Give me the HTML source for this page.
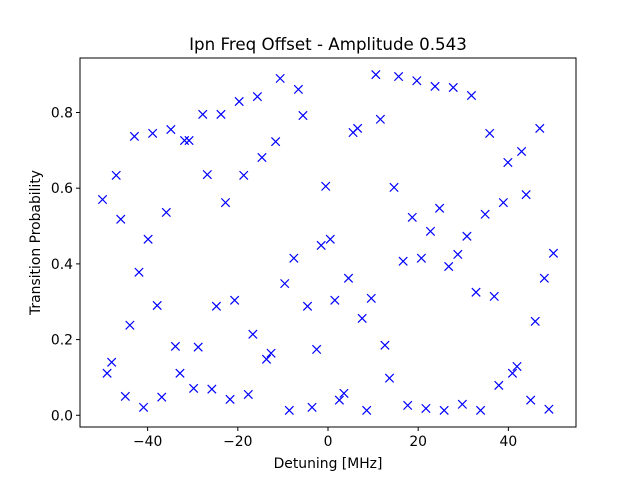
<!DOCTYPE html>
<html><head><meta charset="utf-8"><style>
body{margin:0;background:#fff;}
svg{font-family:"DejaVu Sans","Liberation Sans",sans-serif;}
</style></head><body>
<svg id="chart" width="640" height="480" xmlns="http://www.w3.org/2000/svg">
<rect width="640" height="480" fill="#fff"/>
<text x="328" y="50" text-anchor="middle" font-size="16.7" fill="#000">Ipn Freq Offset - Amplitude 0.543</text>
<g id="plot"></g>
<rect x="80" y="58" width="496" height="369" fill="none" stroke="#000" stroke-width="1"/>
<text x="328" y="468" text-anchor="middle" font-size="13.9">Detuning [MHz]</text>
<text transform="translate(40,242.5) rotate(-90)" text-anchor="middle" font-size="13.9">Transition Probability</text>
</svg>
<script>
const yValues=[0.57,0.111,0.14,0.634,0.518,0.05,0.238,0.737,0.378,0.021,0.465,0.745,0.29,0.048,0.536,0.755,0.182,0.111,0.726,0.726,0.071,0.18,0.795,0.636,0.069,0.288,0.795,0.562,0.042,0.304,0.829,0.634,0.055,0.214,0.842,0.681,0.148,0.164,0.723,0.89,0.348,0.013,0.415,0.861,0.792,0.288,0.021,0.174,0.449,0.605,0.465,0.304,0.04,0.058,0.362,0.747,0.758,0.256,0.013,0.309,0.9,0.782,0.185,0.098,0.602,0.895,0.407,0.026,0.523,0.884,0.415,0.018,0.486,0.869,0.547,0.013,0.393,0.866,0.425,0.029,0.473,0.845,0.325,0.013,0.531,0.745,0.314,0.079,0.562,0.668,0.111,0.129,0.697,0.583,0.04,0.248,0.758,0.362,0.016,0.428];
const xStart=-50, xEnd=50;
const xTicks=[-40,-20,0,20,40];
const yTicks=[0.0,0.2,0.4,0.6,0.8];
const X0=80,X1=576,Y0=427,Y1=58;
const xMin=-55,xMax=55,yMin=-0.031,yMax=0.944;
function sx(v){return X0+(v-xMin)/(xMax-xMin)*(X1-X0);}
function sy(v){return Y0-(v-yMin)/(yMax-yMin)*(Y0-Y1);}
const NS="http://www.w3.org/2000/svg";
const svg=document.getElementById('chart');
const plot=document.getElementById('plot');
function mk(t,a){const e=document.createElementNS(NS,t);for(const k in a)e.setAttribute(k,a[k]);return e;}
xTicks.forEach(t=>{
  const x=sx(t);
  const l=mk('line',{x1:x,x2:x,y1:Y0,y2:Y0+4,stroke:'#000'});
  
  
  svg.appendChild(l);
  const tx=mk('text',{x:x,y:Y0+19,'text-anchor':'middle','font-size':'13.9'});
  tx.textContent=(t<0?'\u2212'+(-t):t);
  
  
  svg.appendChild(tx);
});
yTicks.forEach(t=>{
  const y=sy(t);
  const l=mk('line',{x1:X0-4,x2:X0,y1:y,y2:y,stroke:'#000'});
  
  
  svg.appendChild(l);
  const tx=mk('text',{x:X0-7,y:y+5,'text-anchor':'end','font-size':'13.9'});
  tx.textContent=t.toFixed(1);
  
  
  svg.appendChild(tx);
});
const n=yValues.length;
yValues.forEach((v,i)=>{
  const xv=xStart+(xEnd-xStart)*i/(n-1);
  const cx=sx(xv),cy=sy(v),r=4.2;
  const p=mk('path',{d:`M${cx-r},${cy-r}L${cx+r},${cy+r}M${cx-r},${cy+r}L${cx+r},${cy-r}`,stroke:'#0000ff','stroke-width':'1.2',fill:'none'});
  
  
  plot.appendChild(p);
});
</script>
</body></html>
